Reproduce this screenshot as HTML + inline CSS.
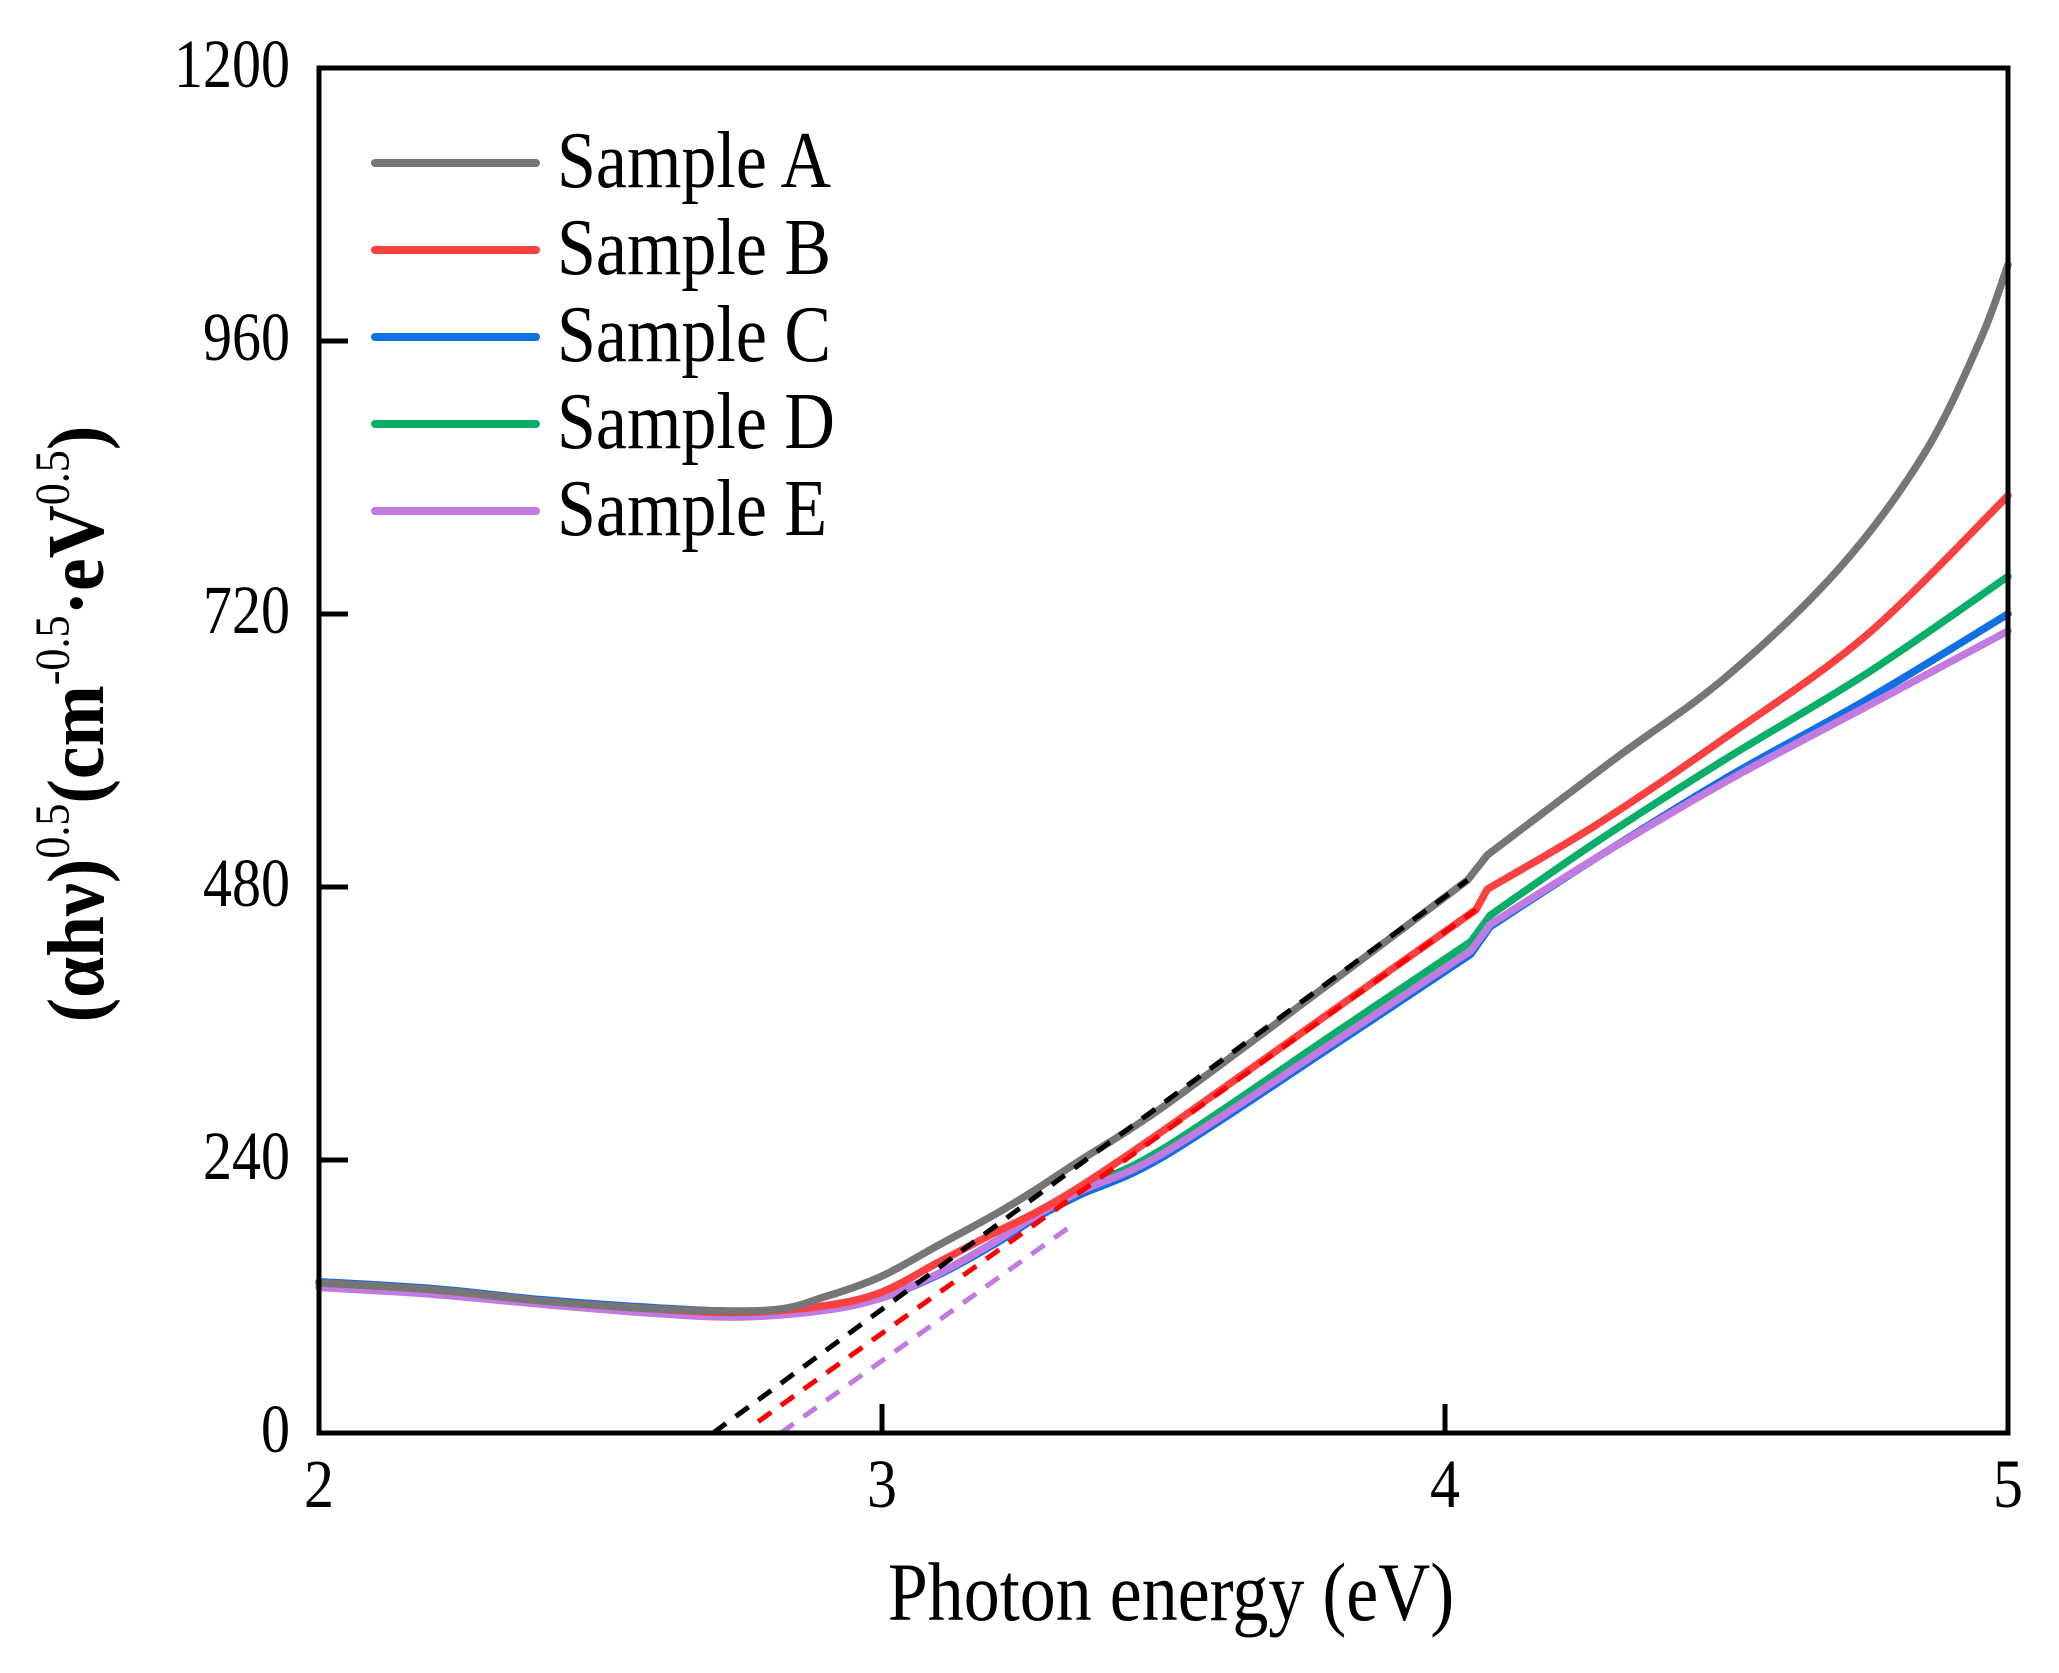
<!DOCTYPE html>
<html><head><meta charset="utf-8"><style>
html,body{margin:0;padding:0;background:#fff;}
svg{display:block;}
text{font-family:"Liberation Serif",serif;fill:#000;}
</style></head><body>
<svg id="s" width="2059" height="1673" viewBox="0 0 2059 1673" xmlns="http://www.w3.org/2000/svg">
<g id="curves" fill="none" stroke-linecap="round" stroke-linejoin="round"></g>
<rect x="319" y="68" width="1689" height="1365" fill="none" stroke="#000" stroke-width="5"/>
<g stroke="#000" stroke-width="5">
<line x1="319" y1="1160" x2="348" y2="1160"/><line x1="319" y1="887" x2="348" y2="887"/>
<line x1="319" y1="614" x2="348" y2="614"/><line x1="319" y1="341" x2="348" y2="341"/>
<line x1="882" y1="1433" x2="882" y2="1404"/><line x1="1445" y1="1433" x2="1445" y2="1404"/>
</g>
<g font-size="58" text-anchor="end">
<text x="290" y="1452" transform="translate(0,1452) scale(1,1.18) translate(0,-1452)">0</text>
<text x="290" y="1179" transform="translate(0,1179) scale(1,1.18) translate(0,-1179)">240</text>
<text x="290" y="906" transform="translate(0,906) scale(1,1.18) translate(0,-906)">480</text>
<text x="290" y="633" transform="translate(0,633) scale(1,1.18) translate(0,-633)">720</text>
<text x="290" y="360" transform="translate(0,360) scale(1,1.18) translate(0,-360)">960</text>
<text x="290" y="87" transform="translate(0,87) scale(1,1.18) translate(0,-87)">1200</text>
</g>
<g font-size="60" text-anchor="middle" transform="translate(0,1507) scale(1,1.15) translate(0,-1507)">
<text x="319" y="1507">2</text><text x="882" y="1507">3</text><text x="1445" y="1507">4</text><text x="2008" y="1507">5</text>
</g>
<text x="1171" y="1620" font-size="72" text-anchor="middle" transform="translate(0,1620) scale(1,1.15) translate(0,-1620)">Photon energy (eV)</text>
<text transform="translate(103,724) rotate(-90) scale(1.05,1.15)" font-size="70" font-weight="bold" text-anchor="middle">(αhν)<tspan font-size="42" font-weight="normal" dy="-30">0.5</tspan><tspan dy="30">(cm</tspan><tspan font-size="42" font-weight="normal" dy="-30">-0.5</tspan><tspan dy="30">·eV</tspan><tspan font-size="42" font-weight="normal" dy="-30">0.5</tspan><tspan dy="30">)</tspan></text>
<g stroke-width="8" stroke-linecap="round">
<line x1="375" y1="163" x2="536" y2="163" stroke="#767676"/>
<line x1="375" y1="250" x2="536" y2="250" stroke="#fa4040"/>
<line x1="375" y1="337" x2="536" y2="337" stroke="#0f6fe3"/>
<line x1="375" y1="424" x2="536" y2="424" stroke="#0aae68"/>
<line x1="375" y1="511" x2="536" y2="511" stroke="#c07ae0"/>
</g>
<g font-size="70">
<text x="557" y="187" transform="translate(0,187) scale(1,1.15) translate(0,-187)">Sample A</text>
<text x="557" y="274" transform="translate(0,274) scale(1,1.15) translate(0,-274)">Sample B</text>
<text x="557" y="361" transform="translate(0,361) scale(1,1.15) translate(0,-361)">Sample C</text>
<text x="557" y="448" transform="translate(0,448) scale(1,1.15) translate(0,-448)">Sample D</text>
<text x="557" y="535" transform="translate(0,535) scale(1,1.15) translate(0,-535)">Sample E</text>
</g>
</svg>
<script>
function X(e){return 319+(e-2)*563;}
function Y(v){return 1433-v*1.1375;}
function spline(pts){
 var p=pts.map(function(a){return [X(a[0]),Y(a[1])];});
 var d="";
 for(var i=0;i<p.length-1;i++){
  var p0=p[i>0?i-1:i],p1=p[i],p2=p[i+1],p3=p[i+2<p.length?i+2:i+1];
  d+=" C"+(p1[0]+(p2[0]-p0[0])/6)+","+(p1[1]+(p2[1]-p0[1])/6)+" "+(p2[0]-(p3[0]-p1[0])/6)+","+(p2[1]-(p3[1]-p1[1])/6)+" "+p2[0]+","+p2[1];
 }
 return d;
}
function path(a,b){
 return "M"+X(a[0][0])+","+Y(a[0][1])+spline(a)+" L"+X(b[0][0])+","+Y(b[0][1])+spline(b);
}
var series=[
["#0aae68",[[2,132],[2.2,126],[2.4,116],[2.6,109],[2.75,106],[2.9,110],[3.0,119],[3.1,140],[3.2,168],[3.27,191],[3.35,214],[3.5,250],[3.8,350],[4.046,432]],[[4.08,455],[4.27,520],[4.5,593],[4.75,668],[5.0,753]]],
["#0f6fe3",[[2,133],[2.2,127],[2.4,117],[2.6,110],[2.75,107],[2.9,110],[3.0,119],[3.1,139],[3.2,166],[3.27,188],[3.35,209],[3.5,243],[3.8,340],[4.046,421]],[[4.08,445],[4.27,506],[4.5,576],[4.75,645],[5.0,720]]],
["#c07ae0",[[2,128],[2.2,122],[2.4,113],[2.6,105],[2.75,102],[2.9,108],[3.0,119],[3.1,140],[3.2,168],[3.27,190],[3.35,212],[3.5,246],[3.8,343],[4.046,424]],[[4.08,447],[4.27,506],[4.5,573],[4.75,639],[5.0,705]]],
["#fa4040",[[2,132],[2.2,126],[2.4,116],[2.6,109],[2.75,106],[2.9,112],[3.0,124],[3.1,150],[3.2,176],[3.27,193],[3.35,216],[3.5,266],[3.8,371],[4.055,460]],[[4.075,478],[4.27,535],[4.5,612],[4.75,702],[5.0,824]]],
["#767676",[[2,132],[2.2,126],[2.4,116],[2.6,109],[2.8,108],[2.9,120],[3.0,138],[3.1,165],[3.2,192],[3.27,213],[3.35,239],[3.5,287],[3.8,397],[4.04,486]],[[4.075,508],[4.3,592],[4.5,665],[4.7,760],[4.85,860],[4.95,960],[5.0,1027]]]
];
var g=document.getElementById("curves"),ns="http://www.w3.org/2000/svg";
series.forEach(function(s){var e=document.createElementNS(ns,"path");e.setAttribute("d",path(s[1],s[2]));e.setAttribute("stroke",s[0]);e.setAttribute("stroke-width","7.5");g.appendChild(e);});
[["#000",2.70,0,4.04,486],["#f00",2.78,10,4.055,460],["#c07ae0",2.82,0,3.33,180]].forEach(function(l){
 var e=document.createElementNS(ns,"line");e.setAttribute("x1",X(l[1]));e.setAttribute("y1",Y(l[2]));e.setAttribute("x2",X(l[3]));e.setAttribute("y2",Y(l[4]));
 e.setAttribute("stroke",l[0]);e.setAttribute("stroke-width","5");e.setAttribute("stroke-linecap","butt");e.setAttribute("stroke-dasharray","16 12");g.appendChild(e);});
</script>
</body></html>
